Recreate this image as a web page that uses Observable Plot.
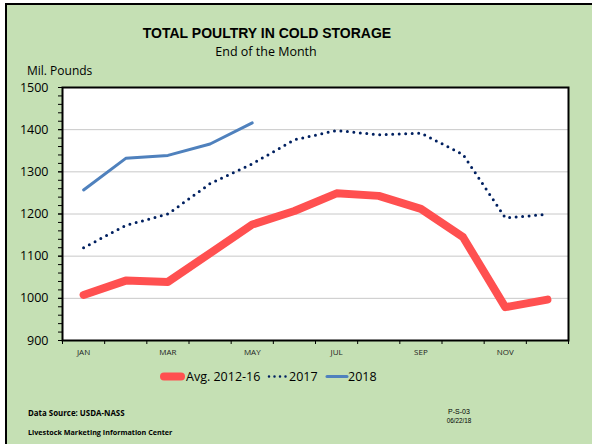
<!DOCTYPE html>
<html>
<head>
<meta charset="utf-8">
<script src="https://cdn.jsdelivr.net/npm/d3@7"></script>
<script src="https://cdn.jsdelivr.net/npm/@observablehq/plot@0.6"></script>
<style>
  body { margin: 0; background: #fff; }
  #wrap { position: relative; width: 592px; height: 444px; overflow: hidden; background: #fff; }
  #bg { position: absolute; left: 5px; top: 3px; width: 600px; height: 460px; background: #C5E0B4; border: 2px solid #000; box-sizing: border-box; }
  #wrap svg { position: absolute; left: 0; top: 0; }
</style>
</head>
<body>
<div id="wrap"><div id="bg"></div></div>
<script>
const months = ["JAN","FEB","MAR","APR","MAY","JUN","JUL","AUG","SEP","OCT","NOV","DEC"];
const labelMonths = ["JAN","MAR","MAY","JUL","SEP","NOV"];
const series = ["Avg. 2012-16", "2017", "2018"];
const avg2012_16 = [1008, 1042, 1039, 1107, 1175, 1207, 1249, 1243, 1212, 1145, 979, 997];
const y2017 = [1120, 1173, 1200, 1272, 1319, 1376, 1398, 1388, 1392, 1341, 1191, 1199];
const y2018 = [1257, 1332, 1339, 1366, 1416];
const yTicks = [900, 1000, 1100, 1200, 1300, 1400, 1500];
const gridTicks = [1000, 1100, 1200, 1300, 1400];

const toRows = arr => arr.map((v, i) => ({m: i + 1, v}));
const colors = ["#FF5050", "#002060", "#4F81BD"];

const plot = Plot.plot({
  width: 592,
  height: 444,
  marginLeft: 62,
  marginRight: 24,
  marginTop: 87,
  marginBottom: 104,
  style: {background: "transparent", fontFamily: "Open Sans", color: "#000"},
  x: {type: "linear", domain: [0.5, 12.5]},
  y: {domain: [900, 1500]},
  marks: [
    Plot.frame({fill: "white"}),
    Plot.ruleY(gridTicks, {stroke: "#C8C8C8", strokeWidth: 1}),
    Plot.line(toRows(avg2012_16), {x: "m", y: "v", stroke: colors[0], strokeWidth: 8, strokeLinecap: "round", strokeLinejoin: "round"}),
    Plot.line(toRows(y2017), {x: "m", y: "v", stroke: colors[1], strokeWidth: 3, strokeLinecap: "round", strokeDasharray: "0 6.5"}),
    Plot.line(toRows(y2018), {x: "m", y: "v", stroke: colors[2], strokeWidth: 3, strokeLinecap: "round", strokeLinejoin: "round"}),
    Plot.frame({stroke: "#000", strokeWidth: 2}),
    Plot.axisY(d3.range(900, 1501, 20), {tickSize: 4, tickFormat: () => "", label: null, stroke: "#000"}),
    Plot.axisY(yTicks, {tickSize: 4, tickPadding: 10, tickFormat: d => String(d), label: null, fontSize: 12.5, fill: "#000", stroke: "#000"}),
    Plot.axisX(d3.range(0.5, 12.6, 1), {tickSize: 4, tickFormat: () => "", label: null, stroke: "#000"}),
    Plot.axisX(labelMonths.map(m => months.indexOf(m) + 1), {tickSize: 0, tickPadding: 9, tickFormat: i => months[i - 1], label: null, fontSize: 8, fill: "#222"})
  ]
});
document.getElementById("wrap").appendChild(plot);

// Titles, legend and notes overlay
const svg = d3.select("#wrap").append("svg").attr("width", 592).attr("height", 444).style("pointer-events", "none");
const txt = (x, y, s, size, opts = {}) => svg.append("text")
  .attr("x", x).attr("y", y).text(s)
  .attr("font-size", size)
  .attr("font-family", opts.family || "Open Sans")
  .attr("font-weight", opts.weight || "normal")
  .attr("text-anchor", opts.anchor || "start")
  .attr("fill", "#000");

txt(267, 38, "TOTAL POULTRY IN COLD STORAGE", 14, {family: "Liberation Sans", weight: "bold", anchor: "middle"});
txt(266, 56, "End of the Month", 12.5, {anchor: "middle"});
txt(27, 75, "Mil. Pounds", 12);

// legend
const legendItems = [
  {x0: 164, x1: 181, tx: 186},
  {x0: 269, x1: 287, tx: 289},
  {x0: 327, x1: 347, tx: 348}
];
const swStyles = [
  {w: 8, dash: null},
  {w: 2.5, dash: "0 5.5"},
  {w: 3, dash: null}
];
series.forEach((name, i) => {
  const it = legendItems[i];
  svg.append("line").attr("x1", it.x0).attr("x2", it.x1).attr("y1", 376.5).attr("y2", 376.5)
    .attr("stroke", colors[i]).attr("stroke-width", swStyles[i].w)
    .attr("stroke-linecap", "round")
    .attr("stroke-dasharray", swStyles[i].dash);
  txt(it.tx, 381, name, 12.5);
});

txt(28, 416, "Data Source:  USDA-NASS", 7.9, {weight: "bold"});
txt(28, 435, "Livestock Marketing Information Center", 7.2, {weight: "bold"});
txt(459, 414, "P-S-03", 7, {family: "Liberation Sans", anchor: "middle"});
txt(459, 423, "06/22/18", 6.3, {family: "Liberation Sans", anchor: "middle"});
</script>
</body>
</html>
